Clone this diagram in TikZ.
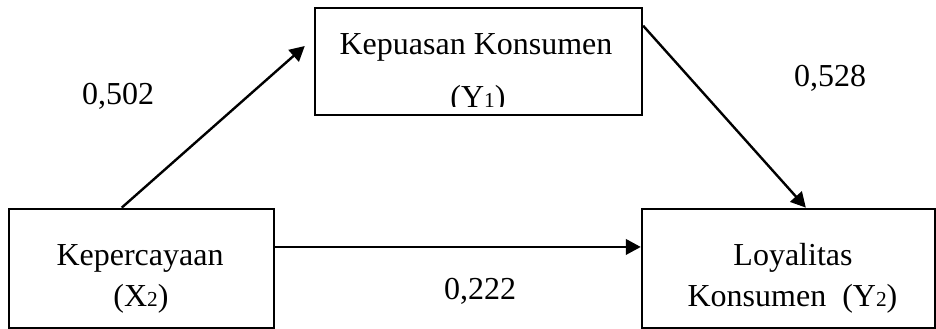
\documentclass[tikz,border=0pt]{standalone}
\usepackage{fontspec}
\setmainfont{Liberation Serif}
\usetikzlibrary{calc}
\usetikzlibrary{arrows.meta}
\newcommand{\idx}[1]{{\fontsize{8}{8}\selectfont #1}}

\begin{document}
\begin{tikzpicture} [x=0.375pt, y=-0.375pt,
  varbox/.style={draw, line width=0.9pt, inner sep=0pt},
  vartext/.style={anchor=base, inner sep=0pt, font=\fontsize{12}{14}\selectfont},
  coef/.style={anchor=base, inner sep=0pt, font=\fontsize{12}{14}\selectfont},
  path/.style={line width=0.9pt, -{Triangle[length=5.6pt, width=5.8pt]}}]
\useasboundingbox (0,0) rectangle (936,329);
\node[varbox, minimum width=122.6pt, minimum height=40.1pt] (kepuasan) at (478.5,61.5) {};
\node[varbox, minimum width=99.4pt, minimum height=44.6pt] (kepercayaan) at (141.5,268.3) {};
\node[varbox, minimum width=109.9pt, minimum height=44.6pt] (loyalitas) at (788.5,268.3) {};
\node[vartext] (kepuasan1) at (476,55) {Kepuasan Konsumen};
\begin{scope}
\clip (kepuasan.north west) rectangle ([yshift=3.8pt]kepuasan.south east);
\node[vartext] (kepuasan2) at (478,108) {(Y\idx{1})};
\end{scope}
\node[vartext] (kepercayaan1) at (140,266) {Kepercayaan};
\node[vartext] (kepercayaan2) at (141,307) {(X\idx{2})};
\node[vartext] (loyalitas1) at (793,266) {Loyalitas};
\node[vartext] (loyalitas2) at (792.5,307) {Konsumen\ \ (Y\idx{2})};
\draw[path] ([xshift=42.75pt]kepercayaan.north west) -- ([xshift=-3.4pt, yshift=5.8pt]kepuasan.west);
\draw[path] ([yshift=-7.1pt]kepuasan.north east) -- ([xshift=61.9pt]loyalitas.north west);
\draw[path] ([yshift=8pt]kepercayaan.east) -- ([yshift=8pt]loyalitas.west);
\node[coef] (pxy1) at (118,105) {0,502};
\node[coef] (py1y2) at (830,87) {0,528};
\node[coef] (pxy2) at (480,300) {0,222};
\end{tikzpicture}
\end{document}
